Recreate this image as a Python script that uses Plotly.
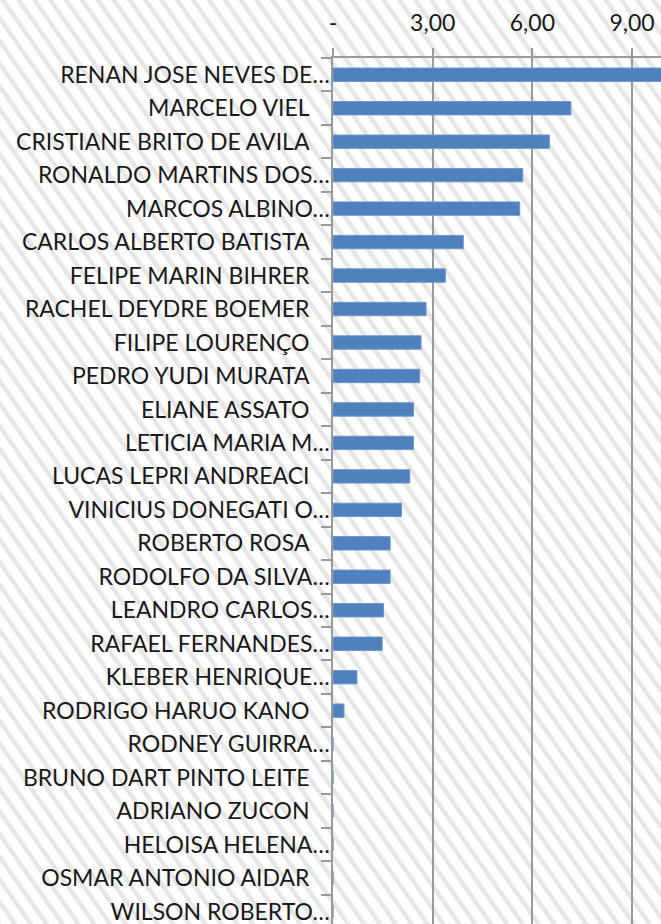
import base64
import plotly.graph_objects as go

names = [
    "RENAN JOSE NEVES DE…", "MARCELO VIEL", "CRISTIANE BRITO DE AVILA",
    "RONALDO MARTINS DOS…", "MARCOS ALBINO…", "CARLOS ALBERTO BATISTA",
    "FELIPE MARIN BIHRER", "RACHEL DEYDRE BOEMER", "FILIPE LOURENÇO",
    "PEDRO YUDI MURATA", "ELIANE ASSATO", "LETICIA MARIA M…",
    "LUCAS LEPRI ANDREACI", "VINICIUS DONEGATI O…", "ROBERTO ROSA",
    "RODOLFO DA SILVA…", "LEANDRO CARLOS…", "RAFAEL FERNANDES…",
    "KLEBER HENRIQUE…", "RODRIGO HARUO KANO", "RODNEY GUIRRA…",
    "BRUNO DART PINTO LEITE", "ADRIANO ZUCON", "HELOISA HELENA…",
    "OSMAR ANTONIO AIDAR", "WILSON ROBERTO…",
]
values = [10.4, 7.16, 6.51, 5.71, 5.62, 3.92, 3.38, 2.80, 2.65, 2.61,
          2.42, 2.42, 2.31, 2.06, 1.72, 1.72, 1.52, 1.48, 0.72, 0.33,
          0, 0, 0, 0, 0, 0]
x_tickvals = [0, 3, 6, 9]
x_ticktext = ["-", "3,00", "6,00", "9,00"]

W, H = 661, 924
ML, MT, MR, MB = 333, 58, 0, 0
XMAX = 9.87
BAND = 33.47

ticktext = [n if n.endswith("…") else n + "\u2003\u2009" for n in names]

svg = f"""<svg xmlns='http://www.w3.org/2000/svg' width='{W}' height='{H}'>
<defs><pattern id='h' width='13' height='13' patternUnits='userSpaceOnUse' patternTransform='rotate(-35)'>
<rect width='13' height='13' fill='#ffffff'/><rect x='0' y='0' width='4.5' height='13' fill='#e6e6e6'/>
</pattern></defs><rect width='{W}' height='{H}' fill='url(#h)'/></svg>"""
src = "data:image/svg+xml;base64," + base64.b64encode(svg.encode()).decode()

pw = W - ML - MR
ph = H - MT - MB

fig = go.Figure(go.Bar(
    x=values, y=list(range(len(names))), orientation="h",
    marker=dict(color="#4f81bd", line=dict(color="#6f97cc", width=1)),
    width=0.4,
))

n = len(names)
fig.update_layout(
    width=W, height=H,
    margin=dict(l=ML, r=MR, t=MT, b=MB),
    paper_bgcolor="white", plot_bgcolor="rgba(0,0,0,0)",
    font=dict(family="Lato, Carlito, sans-serif", size=23, color="#1a1a1a"),
    showlegend=False,
    images=[dict(source=src, xref="paper", yref="paper",
                 x=-ML / pw, y=1 + MT / ph, sizex=W / pw, sizey=H / ph,
                 xanchor="left", yanchor="top", sizing="stretch", layer="below")],
    xaxis=dict(side="top", range=[0, XMAX], tickvals=x_tickvals, ticktext=x_ticktext,
               showgrid=True, gridcolor="#9a9a9a", gridwidth=1.5,
               ticks="outside", ticklen=8, tickcolor="#9a9a9a", tickwidth=1.5,
               showline=True, linecolor="#9a9a9a", linewidth=1.5,
               zeroline=False, ticklabelstandoff=8, fixedrange=True,
               ticklabeloverflow="allow"),
    yaxis=dict(range=[-0.5 + ph / BAND, -0.5],
               tickmode="array", tickvals=list(range(n)), ticktext=ticktext,
               ticks="", ticklen=0,
               minor=dict(tick0=0.5, dtick=1, ticks="outside", ticklen=10,
                          tickcolor="#9a9a9a", tickwidth=1.5, showgrid=False),
               showline=True, linecolor="#9a9a9a", linewidth=1.5,
               showgrid=False, zeroline=False, ticklabelstandoff=-3,
               ticklabeloverflow="allow"),
)

fig.write_html("out.html", config={"displayModeBar": False},
               post_script="document.body.style.margin='0';document.body.style.overflow='hidden';")
